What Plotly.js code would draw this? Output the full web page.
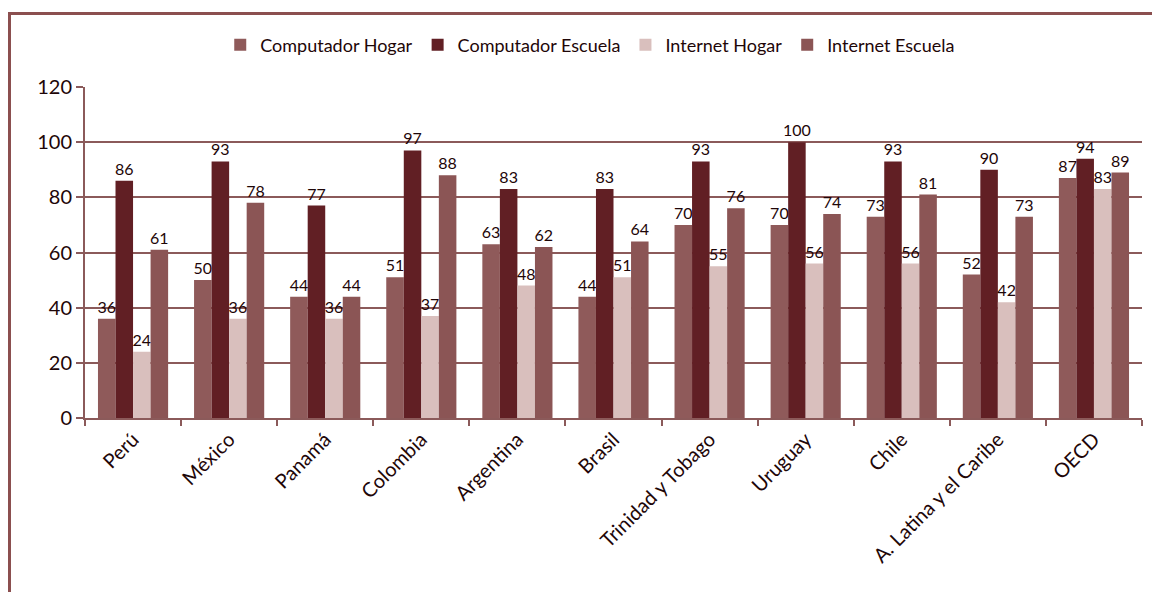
<!DOCTYPE html>
<html>
<head>
<meta charset="utf-8">
<script src="https://cdn.plot.ly/plotly-3.0.1.min.js"></script>
<style>
  html, body { margin: 0; padding: 0; width: 1152px; height: 592px; overflow: hidden; background: #fff; }
  #chart { position: absolute; left: 0; top: 0; width: 1152px; height: 592px; }
  #frame { position: absolute; left: 8px; top: 12px; width: 1300px; height: 700px;
           border-left: 3px solid #8b4f4f; border-top: 3px solid #8b4f4f; pointer-events: none; }
</style>
</head>
<body>
<div id="chart"></div>
<div id="frame"></div>
<script>
const categories = ["Perú", "México", "Panamá", "Colombia", "Argentina", "Brasil",
  "Trinidad y Tobago", "Uruguay", "Chile", "A. Latina y el Caribe", "OECD"];
const computadorHogar   = [36, 50, 44, 51, 63, 44, 70, 70, 73, 52, 87];
const computadorEscuela = [86, 93, 77, 97, 83, 83, 93, 100, 93, 90, 94];
const internetHogar     = [24, 36, 36, 37, 48, 51, 55, 56, 56, 42, 83];
const internetEscuela   = [61, 78, 44, 88, 62, 64, 76, 74, 81, 73, 89];
const seriesNames = ["Computador Hogar", "Computador Escuela", "Internet Hogar", "Internet Escuela"];
const yTicks = [0, 20, 40, 60, 80, 100, 120];

const colors = ["#8f5a5a", "#611f24", "#d9bfbd", "#8b5555"];
const allSeries = [computadorHogar, computadorEscuela, internetHogar, internetEscuela];
const fontFam = "Lato, 'Open Sans', sans-serif";
const textCol = "#1e0608";

const traces = allSeries.map((vals, i) => ({
  type: "bar",
  name: seriesNames[i],
  x: categories,
  y: vals,
  marker: { color: colors[i], line: { width: 0 } },
  text: vals.map(String),
  textposition: "outside",
  constraintext: "none",
  cliponaxis: false,
  textfont: { family: fontFam, size: 16, color: textCol },
  hoverinfo: "skip"
}));

const layout = {
  width: 1152, height: 592,
  margin: { l: 85, r: 10, t: 87, b: 174 },
  paper_bgcolor: "rgba(0,0,0,0)",
  plot_bgcolor: "rgba(0,0,0,0)",
  barmode: "group",
  bargap: 0.27,
  bargroupgap: 0,
  showlegend: true,
  legend: {
    orientation: "h", x: 0.478, xanchor: "center", y: 1.127, yanchor: "middle",
    font: { family: fontFam, size: 18, color: textCol },
    itemwidth: 30, traceorder: "normal"
  },
  xaxis: {
    type: "category",
    tickangle: -45,
    tickson: "boundaries",
    ticks: "outside", ticklen: 6, tickwidth: 2, tickcolor: "#8b5a5a",
    showline: true, linecolor: "#8b5a5a", linewidth: 2,
    showgrid: false,
    tickfont: { family: fontFam, size: 20, color: textCol }
  },
  yaxis: {
    range: [0, 120],
    tickvals: yTicks,
    ticktext: yTicks.map(String),
    ticks: "outside", ticklen: 7, tickwidth: 2, tickcolor: "#8b5a5a",
    showline: true, linecolor: "#8b5a5a", linewidth: 2,
    showgrid: true, gridcolor: "#8b5a5a", gridwidth: 2,
    zeroline: false,
    tickfont: { family: fontFam, size: 20, color: textCol }
  }
};

Plotly.newPlot("chart", traces, layout, { staticPlot: true, displayModeBar: false });
</script>
</body>
</html>
